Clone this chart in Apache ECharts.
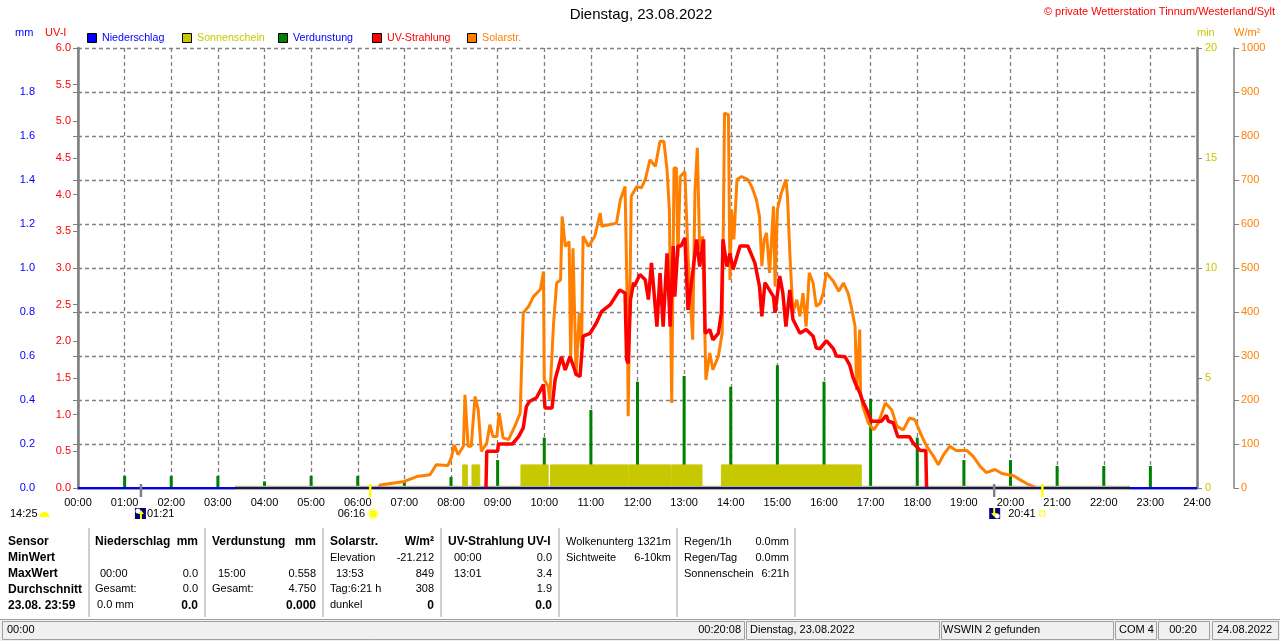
<!DOCTYPE html>
<html>
<head>
<meta charset="utf-8">
<script src="https://cdn.jsdelivr.net/npm/echarts@6/dist/echarts.min.js"></script>
<style>
  html, body { margin: 0; padding: 0; background: #fff; }
  #chart { width: 1280px; height: 641px; }
</style>
</head>
<body>
<div id="chart"></div>
<script>
// --- data ---
var hourTicks = ["00:00","01:00","02:00","03:00","04:00","05:00","06:00","07:00","08:00","09:00","10:00","11:00","12:00",
                 "13:00","14:00","15:00","16:00","17:00","18:00","19:00","20:00","21:00","22:00","23:00","24:00"];

// Verdunstung (mm), one spike per hour
var evapTimes = ["01:00","02:00","03:00","04:00","05:00","06:00","07:00","08:00","09:00","10:00","11:00","12:00",
                 "13:00","14:00","15:00","16:00","17:00","18:00","19:00","20:00","21:00","22:00","23:00"];
var evapValues = [0.055,0.055,0.055,0.03,0.055,0.055,0.03,0.05,0.127,0.229,0.355,0.483,
                  0.509,0.46,0.558,0.483,0.405,0.229,0.127,0.127,0.1,0.1,0.1];

// Sonnenschein (min) blocks
var sunStarts = ["08:15","08:27","09:30","10:08","11:49","12:44","13:48"];
var sunEnds   = ["08:21","08:37","10:05","11:48","12:43","13:23","16:48"];
var sunValues = [1.05,1.05,1.05,1.05,1.05,1.05,1.05];
// zero readings of the sunshine sensor
var sunBaseTimes  = ["03:22","22:34"];
var sunBaseValues = [0, 0];

// Niederschlag (mm)
var rainTimes = ["00:00","24:00"];
var rainValues = [0, 0];

// UV-Strahlung (UV-I)
var uvTimes = ["08:45","08:46","09:00","09:01","09:19","09:27","09:33","09:37","09:41","09:50","09:59",
  "10:01","10:10","10:14","10:22","10:27","10:33","10:37","10:41","10:46","10:50","10:59","11:07","11:14","11:25",
  "11:37","11:44","11:46","11:48","11:51","11:55","11:56","12:03","12:10","12:14","12:18","12:25","12:29","12:33",
  "12:38","12:42","12:46","12:48","12:52","12:56","13:01","13:05","13:12","13:16","13:20","13:25","13:27","13:33",
  "13:37","13:44","13:48","13:50","13:55","13:59","14:03","14:12","14:22","14:31","14:37","14:40","14:44","14:55",
  "14:57","15:03","15:07","15:11","15:16","15:20","15:29","15:37","15:46","15:50","15:55","16:03","16:12","16:16",
  "16:27","16:33","16:37","16:41","16:46","16:50","16:55","17:01","17:14","17:20","17:23","17:29","17:35","17:50",
  "17:55","18:04","18:11","18:12"];
var uvValues = [0,0.5,0.5,0.6,0.6,0.70,0.82,1.11,1.18,1.23,1.41,
  1.09,1.09,1.48,1.79,1.61,1.79,1.68,1.55,1.52,2.07,2.11,2.25,2.41,2.50,
  2.70,2.66,1.75,1.70,2.57,2.80,2.75,2.91,2.84,2.57,3.07,2.20,2.93,2.20,
  3.20,2.20,3.30,2.61,3.30,3.30,3.41,2.43,3.02,3.39,3.02,3.39,2.11,2.16,
  2.02,2.11,2.39,3.39,3.02,3.20,2.98,3.30,3.30,3.07,2.75,2.34,2.80,2.61,
  2.39,2.89,2.66,2.20,2.70,2.30,2.11,2.16,2.07,1.91,1.90,2.01,1.90,1.80,
  1.79,1.68,1.52,1.41,1.30,1.18,1.07,0.91,0.91,0.99,0.91,0.89,0.70,0.70,
  0.61,0.51,0.51,0];

// Solarstrahlung (W/m²)
var solarTimes = ["06:27","06:29","07:00","07:16","07:33","07:41","07:56","08:01","08:04","08:09","08:16",
  "08:18","08:22","08:26","08:31","08:35","08:39","08:46","08:50","08:54","08:59","09:02","09:07","09:14","09:22",
  "09:29","09:33","09:40","09:46","09:55","09:59","10:00","10:05","10:07","10:12","10:16","10:21","10:23","10:27",
  "10:32","10:34","10:37","10:41","10:45","10:48","10:50","10:57","11:05","11:12","11:14","11:33","11:38","11:44",
  "11:47","11:48","11:52","11:59","12:05","12:10","12:16","12:23","12:29","12:34","12:38","12:41","12:44","12:47",
  "12:50","12:52","12:55","13:01","13:05","13:11","13:14","13:17","13:20","13:24","13:28","13:33","13:37","13:44",
  "13:49","13:52","13:57","13:59","14:01","14:04","14:08","14:14","14:22","14:27","14:33","14:37","14:40","14:43",
  "14:46","14:50","14:55","14:57","15:00","15:05","15:11","15:13","15:16","15:20","15:25","15:29","15:33","15:37",
  "15:41","15:46","15:50","15:55","15:59","16:03","16:12","16:19","16:25","16:31","16:35","16:40","16:42","16:46",
  "16:47","16:50","16:57","17:04","17:10","17:19","17:27","17:34","17:42","17:50","17:57","18:04","18:12","18:21",
  "18:27","18:34","18:42","18:50","19:04","19:12","19:21","19:29","19:40","19:49","20:04","20:12","20:23","20:31",
  "20:33"];
var solarValues = [0,7,15,26,30,53,51,72,98,76,95,
  212,95,95,208,178,83,102,144,117,117,170,114,110,140,
  170,398,413,435,451,492,246,231,201,375,466,473,617,549,
  560,292,545,254,398,318,572,549,572,625,595,602,655,685,
  398,163,663,685,682,701,746,731,788,788,723,632,193,727,
  727,526,708,719,526,337,678,773,542,572,246,307,269,299,
  352,852,848,473,632,565,701,708,701,685,655,617,504,565,
  580,489,640,458,632,670,701,663,534,398,428,390,443,367,
  489,466,413,420,443,489,470,447,466,443,413,367,223,360,
  216,185,148,132,148,193,178,140,132,159,155,125,95,72,
  53,76,95,85,85,72,49,35,42,33,28,19,8,2,
  0];

// sun / moon markers under the axis
var moonRise = "01:21", sunRise = "06:16", moonSet = "19:39", sunSet = "20:41";

function toMin(s) { var p = s.split(":"); return (+p[0]) * 60 + (+p[1]); }
function pairs(ts, vs) { return ts.map(function (t, i) { return [toMin(t), vs[i]]; }); }

var sunData = [];
sunStarts.forEach(function (s, i) {
  sunData.push([toMin(s), 0], [toMin(s), sunValues[i]], [toMin(sunEnds[i]), sunValues[i]], [toMin(sunEnds[i]), 0], [toMin(sunEnds[i]), null]);
});

var FONT = "Liberation Sans";
var GRAY = "#808080";
var BLUE = "#0000ff", RED = "#ff0000", OLIVE = "#c8c800", GREEN = "#008000", ORANGE = "#ff8000";

var chart = echarts.init(document.getElementById("chart"));

var option = {
  backgroundColor: "#fff",
  animation: false,
  textStyle: { fontFamily: FONT },
  grid: { left: 78, right: 83, top: 48, bottom: 153 },
  xAxis: [
    {
      type: "value", min: 0, max: 1440, interval: 60, position: "bottom",
      axisLine: { show: false }, axisTick: { show: false },
      axisLabel: {
        color: "#000", fontSize: 11, fontFamily: FONT, margin: 9,
        formatter: function (v) { return hourTicks[Math.round(v / 60)]; }
      },
      splitLine: { show: true, lineStyle: { color: GRAY, type: [4, 3], width: 1.3 } }
    },
    {
      type: "value", min: 0, max: 1440, position: "top",
      axisLine: { show: true, lineStyle: { color: GRAY, width: 2.5 } },
      axisTick: { show: false }, axisLabel: { show: false }, splitLine: { show: false }
    }
  ],
  yAxis: [
    { // mm
      type: "value", min: 0, max: 2, interval: 0.2, position: "left", offset: 37,
      axisLine: { show: true, lineStyle: { color: GRAY, width: 1.5 } },
      axisTick: { show: true, length: 5, lineStyle: { color: GRAY } },
      axisLabel: { color: BLUE, fontSize: 11, fontFamily: FONT, margin: 6,
        formatter: function (v) { return v >= 2 ? "" : v.toFixed(1); } },
      splitLine: { show: false }
    },
    { // UV-I
      type: "value", min: 0, max: 6, interval: 0.5, position: "left", offset: 0,
      axisLine: { show: true, lineStyle: { color: GRAY, width: 2.5 } },
      axisTick: { show: true, length: 5, lineStyle: { color: GRAY } },
      axisLabel: { color: RED, fontSize: 11, fontFamily: FONT, margin: 7,
        formatter: function (v) { return v.toFixed(1); } },
      splitLine: { show: false }
    },
    { // min
      type: "value", min: 0, max: 20, interval: 5, position: "right", offset: 0,
      axisLine: { show: true, lineStyle: { color: GRAY, width: 2.5 } },
      axisTick: { show: true, length: 5, lineStyle: { color: GRAY } },
      axisLabel: { color: OLIVE, fontSize: 11, fontFamily: FONT, margin: 8,
        formatter: function (v) { return String(v); } },
      splitLine: { show: false }
    },
    { // W/m2
      type: "value", min: 0, max: 1000, interval: 100, position: "right", offset: 37,
      axisLine: { show: true, lineStyle: { color: GRAY, width: 1.5 } },
      axisTick: { show: true, length: 5, lineStyle: { color: GRAY } },
      axisLabel: { color: ORANGE, fontSize: 11, fontFamily: FONT, margin: 7,
        formatter: function (v) { return String(v); } },
      splitLine: { show: true, lineStyle: { color: GRAY, type: [4, 3], width: 1.3 } }
    }
  ],
  series: [
    {
      name: "Sonnenschein", type: "line", yAxisIndex: 2, data: sunData, symbol: "none",
      connectNulls: false,
      lineStyle: { color: OLIVE, width: 1 }, areaStyle: { color: OLIVE, opacity: 1 }
    },
    {
      name: "Sonnenschein-Basis", type: "line", yAxisIndex: 2, data: pairs(sunBaseTimes, sunBaseValues),
      symbol: "none", lineStyle: { color: OLIVE, width: 4.5 }
    },
    {
      name: "Verdunstung", type: "bar", yAxisIndex: 0, data: pairs(evapTimes, evapValues),
      barWidth: 3, itemStyle: { color: GREEN }
    },
    {
      name: "Solarstr.", type: "line", yAxisIndex: 3, data: pairs(solarTimes, solarValues),
      symbol: "none", lineStyle: { color: ORANGE, width: 3 }
    },
    {
      name: "UV-Strahlung", type: "line", yAxisIndex: 1, data: pairs(uvTimes, uvValues),
      symbol: "none", lineStyle: { color: RED, width: 3.5 }
    },
    {
      name: "Niederschlag", type: "line", yAxisIndex: 0, data: pairs(rainTimes, rainValues),
      symbol: "none", lineStyle: { color: BLUE, width: 2 }
    }
  ]
};
chart.setOption(option);

// --- texts, legend, markers, table, status bar ---
function txt(x, y, s, o) {
  o = o || {};
  return { type: "text", x: x, y: y, silent: true, z: 10,
    style: { text: s, fill: o.color || "#000", font: (o.bold ? "bold " : "") + (o.size || 11) + "px " + FONT,
             textAlign: o.align || "left", textVerticalAlign: "middle" } };
}
function line(x1, y1, x2, y2, color, w) {
  return { type: "line", silent: true, z: 10, shape: { x1: x1, y1: y1, x2: x2, y2: y2 },
           style: { stroke: color, lineWidth: w || 1 } };
}
function rect(x, y, w, h, fill, stroke, lw) {
  return { type: "rect", silent: true, z: 10, shape: { x: x, y: y, width: w, height: h },
           style: { fill: fill || "none", stroke: stroke || "none", lineWidth: lw || 1 } };
}

var g = [];
g.push(txt(641, 15, "Dienstag, 23.08.2022", { size: 15, align: "center" }));
g.push(txt(1275, 12, "\u00a9 private Wetterstation Tinnum/Westerland/Sylt", { color: RED, align: "right" }));
g.push(txt(15, 33, "mm", { color: BLUE }));
g.push(txt(45, 33, "UV-I", { color: RED }));
g.push(txt(1197, 33, "min", { color: OLIVE }));
g.push(txt(1234, 33, "W/m\u00b2", { color: ORANGE }));

// legend
var legendNames  = ["Niederschlag", "Sonnenschein", "Verdunstung", "UV-Strahlung", "Solarstr."];
var legendFill   = [BLUE, OLIVE, GREEN, RED, ORANGE];
var legendText   = [BLUE, OLIVE, BLUE, RED, ORANGE];
var legendX      = [87, 182, 278, 372, 467];
legendNames.forEach(function (n, i) {
  g.push(rect(legendX[i] + 0.5, 33.5, 9, 9, legendFill[i], "#000", 1));
  g.push(txt(legendX[i] + 15, 38, n, { color: legendText[i], size: 10.7 }));
});

// markers below the time axis
function px(t) { return chart.convertToPixel({ xAxisIndex: 0 }, toMin(t)); }
var xMR = px(moonRise), xSR = px(sunRise), xMS = px(moonSet), xSS = px(sunSet);
g.push(line(xMR, 484, xMR, 497, GRAY, 2.5));
g.push(line(xMS, 484, xMS, 497, GRAY, 2.5));
g.push(line(xSR, 484, xSR, 497, "#ffff00", 2.5));
g.push(line(xSS, 484, xSS, 497, "#ffff00", 2.5));

g.push(txt(10, 514, "14:25"));
g.push({ type: "sector", silent: true, z: 10, shape: { cx: 44.5, cy: 517, r: 5, startAngle: Math.PI, endAngle: Math.PI * 2 },
         style: { fill: "#ffff00" } });
// moon rise icon
g.push(rect(xMR - 6, 508, 11, 11, "#000080"));
g.push({ type: "circle", silent: true, z: 11, shape: { cx: xMR - 3, cy: 511, r: 2.5 }, style: { fill: "#fff" } });
g.push({ type: "polygon", silent: true, z: 11, shape: { points: [[xMR, 510], [xMR + 3, 514], [xMR + 1, 514], [xMR + 1, 519], [xMR - 1, 519], [xMR - 1, 514], [xMR - 3, 514]] },
         style: { fill: "#ffff00" } });
g.push(txt(xMR + 6, 514, moonRise));
// sun rise
g.push(txt(xSR - 5, 514, sunRise, { align: "right" }));
g.push({ type: "circle", silent: true, z: 11, shape: { cx: xSR + 3, cy: 514, r: 4.5 }, style: { fill: "#ffff00", stroke: "#ffff99", lineWidth: 2 } });
// moon set icon
g.push(rect(xMS - 5, 508, 11, 11, "#000080"));
g.push({ type: "circle", silent: true, z: 11, shape: { cx: xMS + 3, cy: 516, r: 2.5 }, style: { fill: "#fff" } });
g.push({ type: "polygon", silent: true, z: 11, shape: { points: [[xMS - 1, 508], [xMS + 1, 508], [xMS + 1, 513], [xMS + 3, 513], [xMS, 517], [xMS - 3, 513], [xMS - 1, 513]] },
         style: { fill: "#ffff00" } });
g.push(txt(xMS + 14, 514, sunSet));
g.push(rect(xSS - 2.5, 511, 5, 5, "none", "#ffff00", 1.2));

// table
var rowsY = [541.7, 557.7, 573.7, 589.3, 605.3];
["Sensor", "MinWert", "MaxWert", "Durchschnitt", "23.08. 23:59"].forEach(function (s, i) {
  g.push(txt(8, rowsY[i], s, { bold: true, size: 12 }));
});
[89, 205, 323, 441, 559, 677, 795].forEach(function (x) { g.push(line(x, 528, x, 617, "#a0a0a0", 1)); });

// Niederschlag column
g.push(txt(95, rowsY[0], "Niederschlag", { bold: true, size: 12 }));
g.push(txt(198, rowsY[0], "mm", { bold: true, size: 12, align: "right" }));
g.push(txt(100, rowsY[2], "00:00")); g.push(txt(198, rowsY[2], "0.0", { align: "right" }));
g.push(txt(95, rowsY[3], "Gesamt:")); g.push(txt(198, rowsY[3], "0.0", { align: "right" }));
g.push(txt(97, rowsY[4], "0.0 mm")); g.push(txt(198, rowsY[4], "0.0", { align: "right", bold: true, size: 12 }));
// Verdunstung column
g.push(txt(212, rowsY[0], "Verdunstung", { bold: true, size: 12 }));
g.push(txt(316, rowsY[0], "mm", { bold: true, size: 12, align: "right" }));
g.push(txt(218, rowsY[2], "15:00")); g.push(txt(316, rowsY[2], "0.558", { align: "right" }));
g.push(txt(212, rowsY[3], "Gesamt:")); g.push(txt(316, rowsY[3], "4.750", { align: "right" }));
g.push(txt(316, rowsY[4], "0.000", { align: "right", bold: true, size: 12 }));
// Solarstr. column
g.push(txt(330, rowsY[0], "Solarstr.", { bold: true, size: 12 }));
g.push(txt(434, rowsY[0], "W/m\u00b2", { bold: true, size: 12, align: "right" }));
g.push(txt(330, rowsY[1], "Elevation")); g.push(txt(434, rowsY[1], "-21.212", { align: "right" }));
g.push(txt(336, rowsY[2], "13:53")); g.push(txt(434, rowsY[2], "849", { align: "right" }));
g.push(txt(330, rowsY[3], "Tag:6:21 h")); g.push(txt(434, rowsY[3], "308", { align: "right" }));
g.push(txt(330, rowsY[4], "dunkel")); g.push(txt(434, rowsY[4], "0", { align: "right", bold: true, size: 12 }));
// UV column
g.push(txt(448, rowsY[0], "UV-Strahlung UV-I", { bold: true, size: 12 }));
g.push(txt(454, rowsY[1], "00:00")); g.push(txt(552, rowsY[1], "0.0", { align: "right" }));
g.push(txt(454, rowsY[2], "13:01")); g.push(txt(552, rowsY[2], "3.4", { align: "right" }));
g.push(txt(552, rowsY[3], "1.9", { align: "right" }));
g.push(txt(552, rowsY[4], "0.0", { align: "right", bold: true, size: 12 }));
// misc columns
g.push(txt(566, rowsY[0], "Wolkenunterg")); g.push(txt(671, rowsY[0], "1321m", { align: "right" }));
g.push(txt(566, rowsY[1], "Sichtweite")); g.push(txt(671, rowsY[1], "6-10km", { align: "right" }));
g.push(txt(684, rowsY[0], "Regen/1h")); g.push(txt(789, rowsY[0], "0.0mm", { align: "right" }));
g.push(txt(684, rowsY[1], "Regen/Tag")); g.push(txt(789, rowsY[1], "0.0mm", { align: "right" }));
g.push(txt(684, rowsY[2], "Sonnenschein")); g.push(txt(789, rowsY[2], "6:21h", { align: "right" }));

// status bar
g.push(rect(0, 619, 1280, 22, "#f0f0f0"));
g.push(line(0, 619.5, 1280, 619.5, "#a0a0a0", 1));
var boxes = [[2, 744], [746, 939], [941, 1113], [1115, 1156], [1158, 1209], [1212, 1278]];
boxes.forEach(function (b) { g.push(rect(b[0] + 0.5, 621.5, b[1] - b[0], 18, "none", "#a0a0a0", 1)); });
g.push(txt(7, 630, "00:00"));
g.push(txt(741, 630, "00:20:08", { align: "right" }));
g.push(txt(750, 630, "Dienstag, 23.08.2022"));
g.push(txt(943, 630, "WSWIN 2 gefunden"));
g.push(txt(1119, 630, "COM 4"));
g.push(txt(1183, 630, "00:20", { align: "center" }));
g.push(txt(1217, 630, "24.08.2022"));

chart.setOption({ graphic: g });
</script>
</body>
</html>
